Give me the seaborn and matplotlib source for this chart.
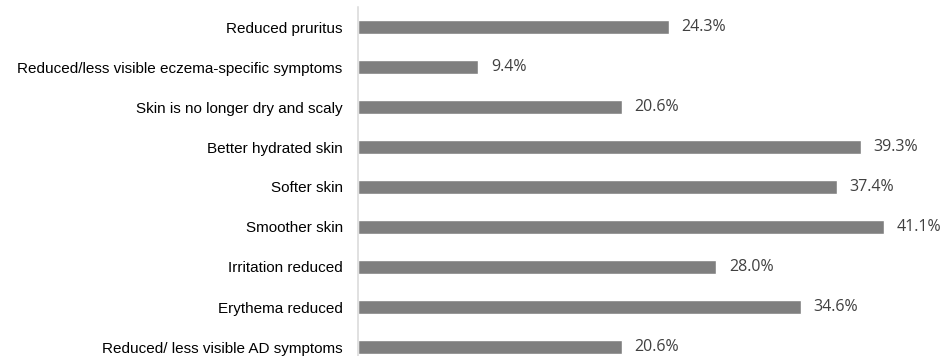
import matplotlib
matplotlib.use("Agg")
import matplotlib.pyplot as plt
import seaborn as sns
import pandas as pd

categories = [
    "Reduced pruritus",
    "Reduced/less visible eczema-specific symptoms",
    "Skin is no longer dry and scaly",
    "Better hydrated skin",
    "Softer skin",
    "Smoother skin",
    "Irritation reduced",
    "Erythema reduced",
    "Reduced/ less visible AD symptoms",
]
values = [24.3, 9.4, 20.6, 39.3, 37.4, 41.1, 28.0, 34.6, 20.6]
value_labels = ["24.3%", "9.4%", "20.6%", "39.3%", "37.4%", "41.1%", "28.0%", "34.6%", "20.6%"]

df = pd.DataFrame({"category": categories, "value": values})

sns.set_theme(style="white")
plt.rcParams["font.family"] = ["Liberation Sans", "DejaVu Sans"]

W, H = 950, 356
fig = plt.figure(figsize=(W / 100, H / 100), dpi=100)
xmax = 46.0
px_per_unit = 12.8
left = 358
top = 7
row = 40
n = len(categories)
ax = fig.add_axes([left / W, (H - top - n * row) / H, xmax * px_per_unit / W, n * row / H])

sns.barplot(data=df, x="value", y="category", orient="h", color="#7f7f7f",
            saturation=1, width=0.35, ax=ax, order=categories)
ax.set_xlim(0, xmax)
ax.set_ylim(n - 0.5, -0.5)
ax.set_xlabel("")
ax.set_ylabel("")
ax.set_xticks([])
for s in ["top", "right", "bottom"]:
    ax.spines[s].set_visible(False)
ax.spines["left"].set_color("#d9d9d9")
ax.spines["left"].set_linewidth(1.1)
ax.tick_params(axis="y", length=0, pad=11, labelsize=11, labelcolor="#000000")

for i, (v, lab) in enumerate(zip(values, value_labels)):
    ax.annotate(lab, xy=(v, i), xytext=(9, 0), textcoords="offset points",
                va="center", ha="left", fontsize=11.5, color="#404040",
                family=["Open Sans", "DejaVu Sans"])

fig.savefig("out.png", dpi=100)
